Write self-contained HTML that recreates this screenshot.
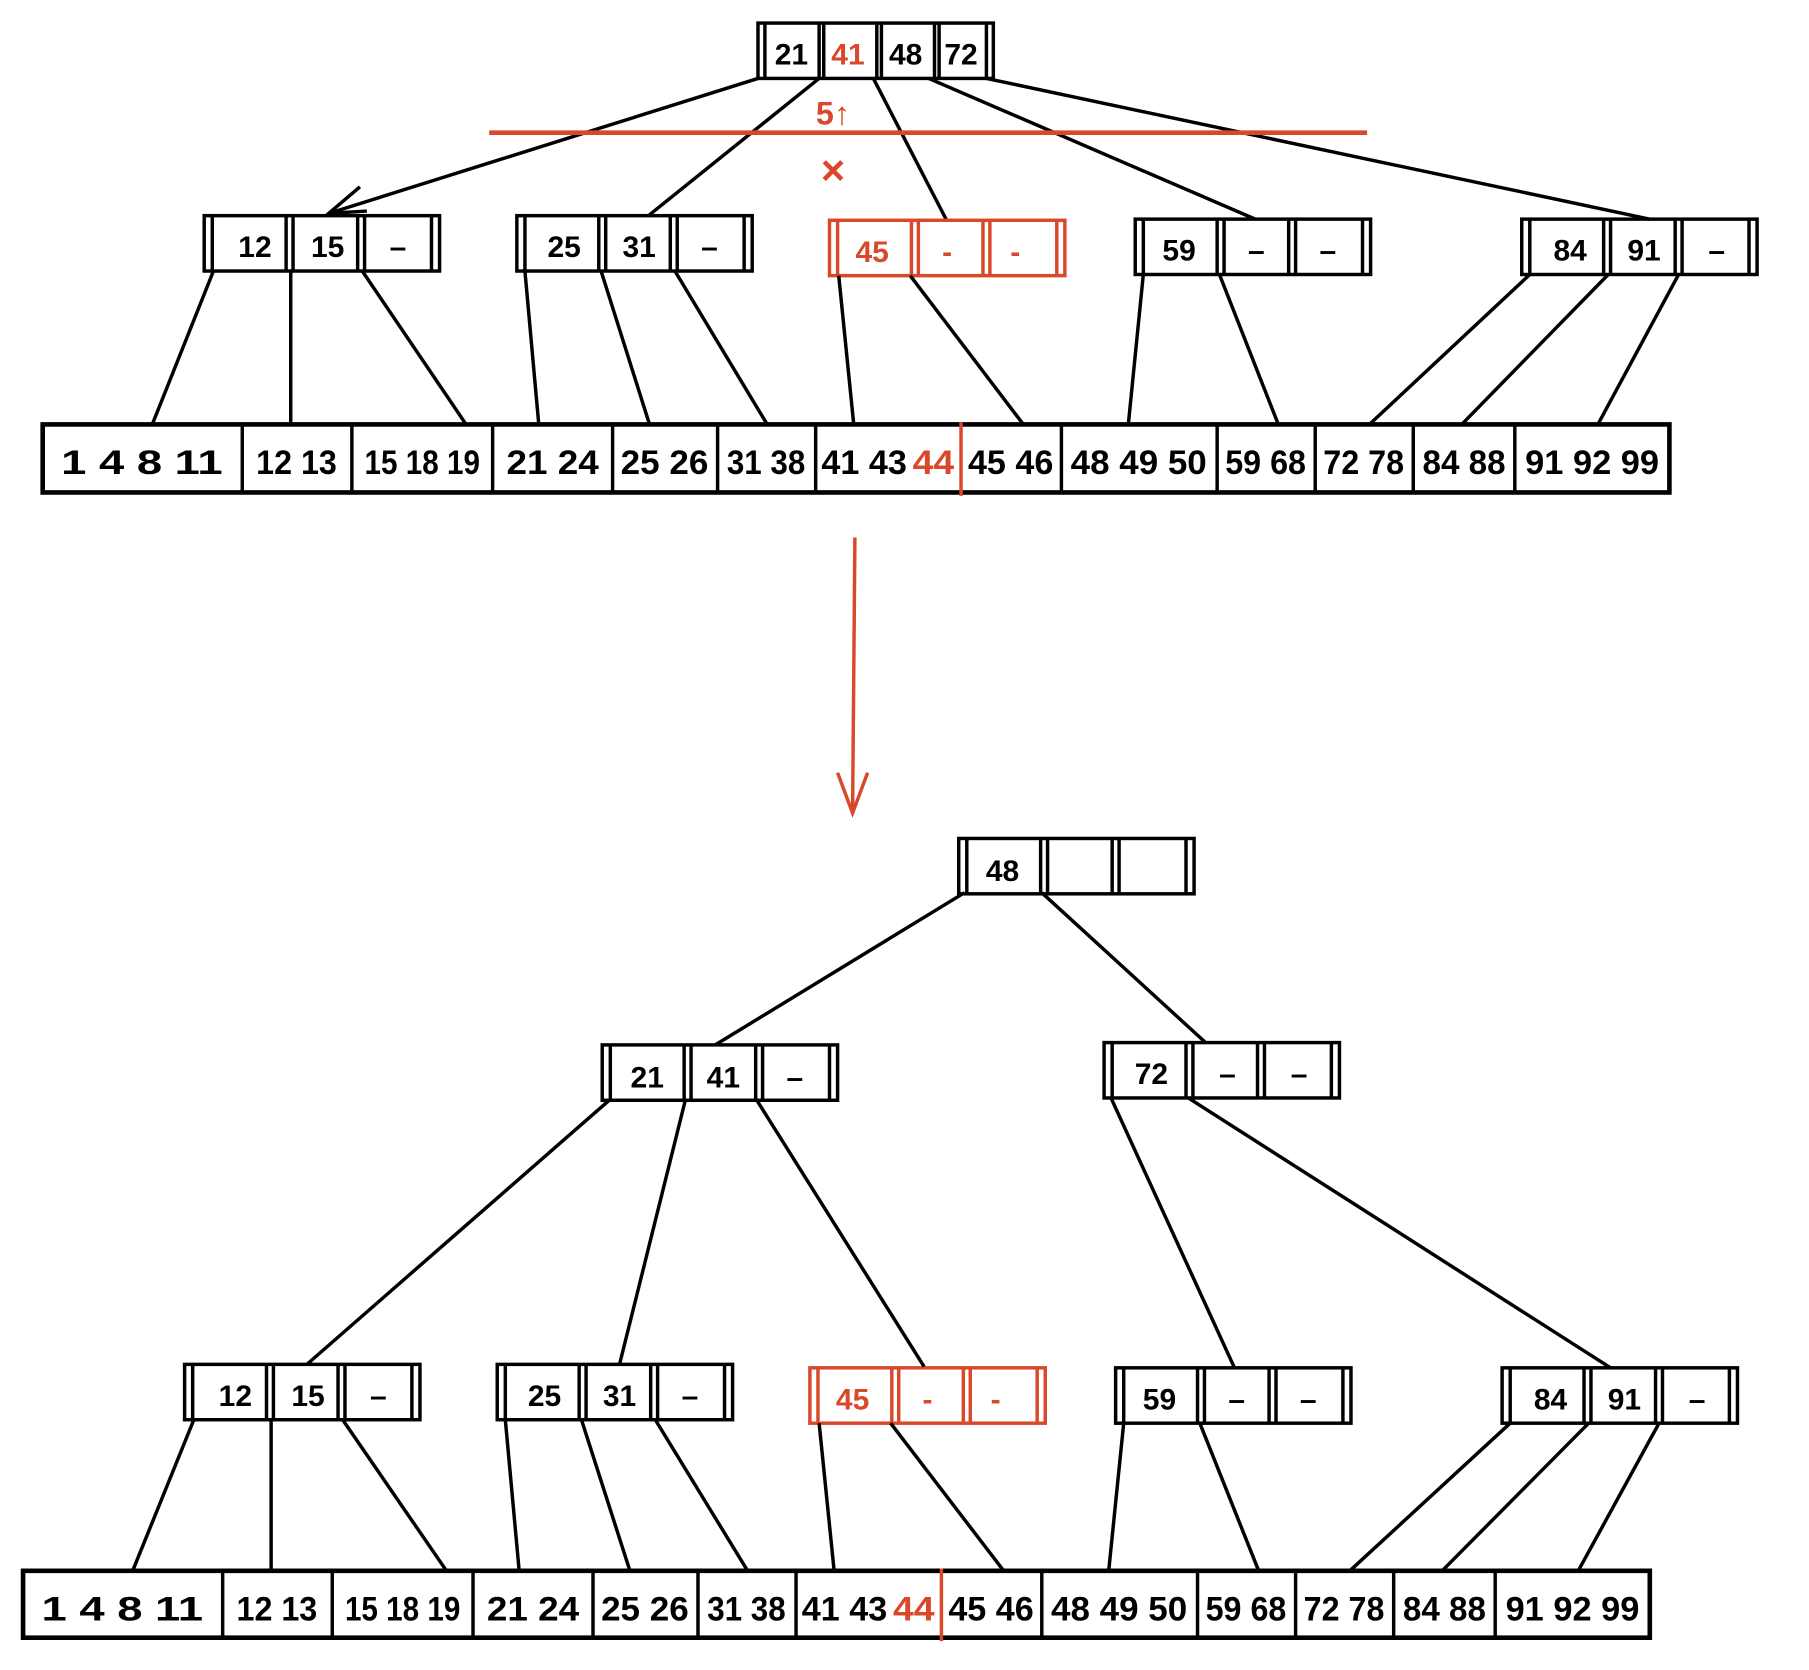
<!DOCTYPE html>
<html><head><meta charset="utf-8"><style>
html,body{margin:0;padding:0;background:#fff;}
svg{display:block;}
text{font-family:"Liberation Sans",sans-serif;font-weight:bold;}
</style></head><body>
<svg width="1809" height="1670" viewBox="0 0 1568 1448" preserveAspectRatio="none" xmlns="http://www.w3.org/2000/svg">
<defs>
<g id="nd" fill="none" stroke-width="3">
<rect x="0" y="0" width="204" height="48"/>
<line x1="7" y1="0" x2="7" y2="48"/><line x1="71" y1="0" x2="71" y2="48"/><line x1="77" y1="0" x2="77" y2="48"/>
<line x1="133" y1="0" x2="133" y2="48"/><line x1="139" y1="0" x2="139" y2="48"/><line x1="197" y1="0" x2="197" y2="48"/>
</g>
</defs>
<rect width="1568" height="1448" fill="#fff"/>

<!-- TOP TREE -->
<g stroke="#000" stroke-width="3" fill="none">
<rect x="657" y="20" width="204" height="48"/>
<line x1="663" y1="20" x2="663" y2="68"/><line x1="710" y1="20" x2="710" y2="68"/><line x1="714" y1="20" x2="714" y2="68"/>
<line x1="760" y1="20" x2="760" y2="68"/><line x1="764" y1="20" x2="764" y2="68"/><line x1="810" y1="20" x2="810" y2="68"/>
<line x1="814" y1="20" x2="814" y2="68"/><line x1="855" y1="20" x2="855" y2="68"/>
<line x1="657" y1="68" x2="285" y2="185"/><polyline points="312,162 285,185 318,183"/>
<line x1="710" y1="68" x2="562" y2="187"/>
<line x1="757" y1="68" x2="820" y2="190"/>
<line x1="805" y1="68" x2="1088" y2="190"/>
<line x1="855" y1="68" x2="1430" y2="190"/>
</g>
<line x1="424" y1="115" x2="1185" y2="115" stroke="#d9482b" stroke-width="4"/>
<text x="722" y="108" font-size="28" fill="#d9482b" text-anchor="middle">5↑</text>
<text x="722" y="160" font-size="36" fill="#d9482b" text-anchor="middle" font-weight="normal">×</text>
<g font-size="26" text-anchor="middle">
<text x="686" y="56">21</text><text x="735" y="56" fill="#d9482b">41</text><text x="785" y="56">48</text><text x="833" y="56">72</text>
</g>
<use href="#nd" x="177" y="187" stroke="#000"/>
<use href="#nd" x="448" y="187" stroke="#000"/>
<use href="#nd" x="719" y="191" stroke="#d9482b"/>
<use href="#nd" x="984" y="190" stroke="#000"/>
<use href="#nd" x="1319" y="190" stroke="#000"/>
<g font-size="26" text-anchor="middle">
<text x="221" y="223">12</text><text x="284" y="223">15</text><text x="345" y="223">–</text>
<text x="489" y="223">25</text><text x="554" y="223">31</text><text x="615" y="223">–</text>
<g fill="#d9482b"><text x="756" y="227">45</text><text x="821" y="227">-</text><text x="880" y="227">-</text></g>
<text x="1022" y="226">59</text><text x="1089" y="226">–</text><text x="1151" y="226">–</text>
<text x="1361" y="226">84</text><text x="1425" y="226">91</text><text x="1488" y="226">–</text>
</g>
<g stroke="#000" stroke-width="3" fill="none">
<line x1="185" y1="235" x2="132" y2="368"/><line x1="252" y1="235" x2="252" y2="368"/><line x1="314" y1="235" x2="404" y2="368"/>
<line x1="455" y1="235" x2="467" y2="368"/><line x1="521" y1="235" x2="563" y2="368"/><line x1="585" y1="235" x2="665" y2="368"/>
<line x1="727" y1="239" x2="740" y2="368"/><line x1="789" y1="239" x2="887" y2="368"/>
<line x1="991" y1="238" x2="978" y2="368"/><line x1="1057" y1="238" x2="1108" y2="368"/>
<line x1="1326" y1="238" x2="1187" y2="368"/><line x1="1394" y1="238" x2="1267" y2="368"/><line x1="1455" y1="238" x2="1385" y2="368"/>
<rect x="37" y="368" width="1410" height="59" stroke-width="4"/>
<line x1="210" y1="368" x2="210" y2="427"/><line x1="305" y1="368" x2="305" y2="427"/><line x1="427" y1="368" x2="427" y2="427"/>
<line x1="531" y1="368" x2="531" y2="427"/><line x1="622" y1="368" x2="622" y2="427"/><line x1="707" y1="368" x2="707" y2="427"/>
<line x1="920" y1="368" x2="920" y2="427"/><line x1="1055" y1="368" x2="1055" y2="427"/><line x1="1140" y1="368" x2="1140" y2="427"/>
<line x1="1225" y1="368" x2="1225" y2="427"/><line x1="1313" y1="368" x2="1313" y2="427"/>
</g>
<line x1="833" y1="366" x2="833" y2="430" stroke="#d9482b" stroke-width="3"/>
<g font-size="30" text-anchor="middle">
<text x="123" y="411" textLength="140" lengthAdjust="spacingAndGlyphs">1 4 8 11</text>
<text x="257" y="411" textLength="70" lengthAdjust="spacingAndGlyphs">12 13</text>
<text x="366" y="411" textLength="100" lengthAdjust="spacingAndGlyphs">15 18 19</text>
<text x="479" y="411" textLength="80" lengthAdjust="spacingAndGlyphs">21 24</text>
<text x="576" y="411" textLength="76" lengthAdjust="spacingAndGlyphs">25 26</text>
<text x="664" y="411" textLength="68" lengthAdjust="spacingAndGlyphs">31 38</text>
<text x="749" y="411" textLength="74" lengthAdjust="spacingAndGlyphs">41 43</text>
<text x="809" y="411" fill="#d9482b" textLength="36" lengthAdjust="spacingAndGlyphs">44</text>
<text x="876" y="411" textLength="74" lengthAdjust="spacingAndGlyphs">45 46</text>
<text x="987" y="411" textLength="118" lengthAdjust="spacingAndGlyphs">48 49 50</text>
<text x="1097" y="411" textLength="70" lengthAdjust="spacingAndGlyphs">59 68</text>
<text x="1182" y="411" textLength="70" lengthAdjust="spacingAndGlyphs">72 78</text>
<text x="1269" y="411" textLength="72" lengthAdjust="spacingAndGlyphs">84 88</text>
<text x="1380" y="411" textLength="116" lengthAdjust="spacingAndGlyphs">91 92 99</text>
</g>

<!-- ARROW -->
<g stroke="#d9482b" stroke-width="3" fill="none">
<line x1="741" y1="466" x2="739" y2="705"/>
<polyline points="726,670 739,705 752,670"/>
</g>

<!-- BOTTOM TREE -->
<use href="#nd" x="831" y="727" stroke="#000"/>
<use href="#nd" x="522" y="906" stroke="#000"/>
<use href="#nd" x="957" y="904" stroke="#000"/>
<use href="#nd" x="160" y="1183" stroke="#000"/>
<use href="#nd" x="431" y="1183" stroke="#000"/>
<use href="#nd" x="702" y="1186" stroke="#d9482b"/>
<use href="#nd" x="967" y="1186" stroke="#000"/>
<use href="#nd" x="1302" y="1186" stroke="#000"/>
<g font-size="26" text-anchor="middle">
<text x="869" y="764">48</text>
<text x="561" y="943">21</text><text x="627" y="943">41</text><text x="689" y="943">–</text>
<text x="998" y="940">72</text><text x="1064" y="940">–</text><text x="1126" y="940">–</text>
<text x="204" y="1219">12</text><text x="267" y="1219">15</text><text x="328" y="1219">–</text>
<text x="472" y="1219">25</text><text x="537" y="1219">31</text><text x="598" y="1219">–</text>
<g fill="#d9482b"><text x="739" y="1222">45</text><text x="804" y="1222">-</text><text x="863" y="1222">-</text></g>
<text x="1005" y="1222">59</text><text x="1072" y="1222">–</text><text x="1134" y="1222">–</text>
<text x="1344" y="1222">84</text><text x="1408" y="1222">91</text><text x="1471" y="1222">–</text>
</g>
<g stroke="#000" stroke-width="3" fill="none">
<line x1="836" y1="774" x2="620" y2="906"/><line x1="903" y1="774" x2="1045" y2="904"/>
<line x1="528" y1="954" x2="266" y2="1183"/><line x1="594" y1="954" x2="537" y2="1183"/><line x1="656" y1="954" x2="801" y2="1185"/>
<line x1="963" y1="952" x2="1070" y2="1186"/><line x1="1030" y1="952" x2="1396" y2="1186"/>
<line x1="168" y1="1231" x2="115" y2="1362"/><line x1="235" y1="1231" x2="235" y2="1362"/><line x1="297" y1="1231" x2="387" y2="1362"/>
<line x1="438" y1="1231" x2="450" y2="1362"/><line x1="504" y1="1231" x2="546" y2="1362"/><line x1="568" y1="1231" x2="648" y2="1362"/>
<line x1="710" y1="1234" x2="723" y2="1362"/><line x1="772" y1="1234" x2="870" y2="1362"/>
<line x1="974" y1="1234" x2="961" y2="1362"/><line x1="1040" y1="1234" x2="1091" y2="1362"/>
<line x1="1309" y1="1234" x2="1170" y2="1362"/><line x1="1377" y1="1234" x2="1250" y2="1362"/><line x1="1438" y1="1234" x2="1368" y2="1362"/>
<rect x="20" y="1362" width="1410" height="58" stroke-width="4"/>
<line x1="193" y1="1362" x2="193" y2="1420"/><line x1="288" y1="1362" x2="288" y2="1420"/><line x1="410" y1="1362" x2="410" y2="1420"/>
<line x1="514" y1="1362" x2="514" y2="1420"/><line x1="605" y1="1362" x2="605" y2="1420"/><line x1="690" y1="1362" x2="690" y2="1420"/>
<line x1="903" y1="1362" x2="903" y2="1420"/><line x1="1038" y1="1362" x2="1038" y2="1420"/><line x1="1123" y1="1362" x2="1123" y2="1420"/>
<line x1="1208" y1="1362" x2="1208" y2="1420"/><line x1="1296" y1="1362" x2="1296" y2="1420"/>
</g>
<line x1="816" y1="1360" x2="816" y2="1423" stroke="#d9482b" stroke-width="3"/>
<g font-size="30" text-anchor="middle">
<text x="106" y="1405" textLength="140" lengthAdjust="spacingAndGlyphs">1 4 8 11</text>
<text x="240" y="1405" textLength="70" lengthAdjust="spacingAndGlyphs">12 13</text>
<text x="349" y="1405" textLength="100" lengthAdjust="spacingAndGlyphs">15 18 19</text>
<text x="462" y="1405" textLength="80" lengthAdjust="spacingAndGlyphs">21 24</text>
<text x="559" y="1405" textLength="76" lengthAdjust="spacingAndGlyphs">25 26</text>
<text x="647" y="1405" textLength="68" lengthAdjust="spacingAndGlyphs">31 38</text>
<text x="732" y="1405" textLength="74" lengthAdjust="spacingAndGlyphs">41 43</text>
<text x="792" y="1405" fill="#d9482b" textLength="36" lengthAdjust="spacingAndGlyphs">44</text>
<text x="859" y="1405" textLength="74" lengthAdjust="spacingAndGlyphs">45 46</text>
<text x="970" y="1405" textLength="118" lengthAdjust="spacingAndGlyphs">48 49 50</text>
<text x="1080" y="1405" textLength="70" lengthAdjust="spacingAndGlyphs">59 68</text>
<text x="1165" y="1405" textLength="70" lengthAdjust="spacingAndGlyphs">72 78</text>
<text x="1252" y="1405" textLength="72" lengthAdjust="spacingAndGlyphs">84 88</text>
<text x="1363" y="1405" textLength="116" lengthAdjust="spacingAndGlyphs">91 92 99</text>
</g>
</svg>
</body></html>
